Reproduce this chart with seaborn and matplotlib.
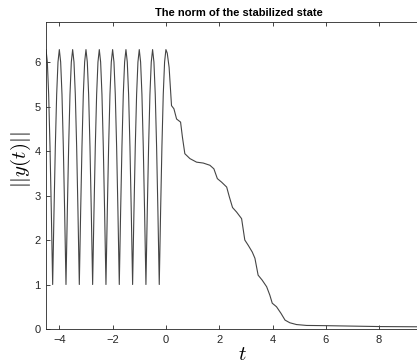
import numpy as np
import pandas as pd
import seaborn as sns
import matplotlib
matplotlib.use("Agg")
import matplotlib.pyplot as plt

# peaks of the oscillating history (t <= 0), one every half unit
peak_times = [-4.5, -4.0, -3.5, -3.0, -2.5, -2.0, -1.5, -1.0, -0.5, 0.0]
# half of one hump: offset from the peak -> norm
hump_offsets = [0.0, 0.05, 0.10, 0.15, 0.20, 0.25]
hump_values = [6.28, 6.00, 5.27, 4.10, 2.63, 1.00]

# stabilized part (t > 0)
decay_t = [0.05, 0.12, 0.21, 0.30, 0.40, 0.55, 0.62, 0.71, 0.90, 1.15, 1.40,
           1.65, 1.80, 1.93, 2.09, 2.28, 2.38, 2.50, 2.65, 2.84, 2.96, 3.09,
           3.24, 3.34, 3.46, 3.61, 3.78, 3.90, 3.99, 4.15, 4.32, 4.47, 4.65,
           4.90, 5.28, 6.0, 7.0, 8.0, 9.0, 10.0]
decay_norm = [6.20, 5.88, 5.02, 4.95, 4.72, 4.65, 4.31, 3.94, 3.83, 3.75, 3.73,
              3.68, 3.60, 3.38, 3.30, 3.19, 2.97, 2.73, 2.63, 2.48, 2.00, 1.88,
              1.73, 1.59, 1.21, 1.10, 0.95, 0.76, 0.58, 0.50, 0.35, 0.20, 0.14,
              0.10, 0.08, 0.075, 0.065, 0.055, 0.05, 0.05]

# the 10 tick sits past the right edge of the picture
x_ticks = [-4, -2, 0, 2, 4, 6, 8]
y_ticks = [0, 1, 2, 3, 4, 5, 6]

# build the history from the hump profile
hist_t, hist_v = [], []
for i, p in enumerate(peak_times):
    if i > 0:
        for off, v in zip(hump_offsets[::-1][:-1], hump_values[::-1][:-1]):
            hist_t.append(p - off)
            hist_v.append(v)
    hist_t.append(p)
    hist_v.append(hump_values[0])
    if p < 0:
        for off, v in zip(hump_offsets[1:-1], hump_values[1:-1]):
            hist_t.append(p + off)
            hist_v.append(v)

df = pd.DataFrame({"t": hist_t + decay_t, "norm": hist_v + decay_norm})

sns.set_style("ticks")
plt.rcParams["font.family"] = ["Liberation Sans", "DejaVu Sans"]
plt.rcParams["mathtext.fontset"] = "cm"

fig = plt.figure(figsize=(4.17, 3.64), dpi=100)
ax = fig.add_axes([46 / 417, 35 / 364, 386.4 / 417, 307 / 364])

sns.lineplot(data=df, x="t", y="norm", ax=ax, color="#454545", lw=0.8,
             sort=False, estimator=None)

axc = "#262626"
ax.set_xlim(-4.5, 10)
ax.set_ylim(0, 6.9)
ax.set_xticks(x_ticks)
ax.set_yticks(y_ticks)
ax.tick_params(direction="in", length=3, width=0.6, colors=axc, labelsize=8,
               top=True, right=True, pad=4)
for s in ax.spines.values():
    s.set_visible(True)
    s.set_linewidth(0.6)
    s.set_color(axc)

ax.set_title("The norm of the stabilized state", fontsize=8, fontweight="bold",
             color="black", pad=4)
ax.set_xlabel("$t$", fontsize=15, color="black")
ax.set_ylabel("$||y(t)||$", fontsize=15, color="black")
ax.xaxis.set_label_coords(0.509, -0.052)
ax.yaxis.set_label_coords(-0.034, 0.55)

fig.savefig("out.png", dpi=100)
